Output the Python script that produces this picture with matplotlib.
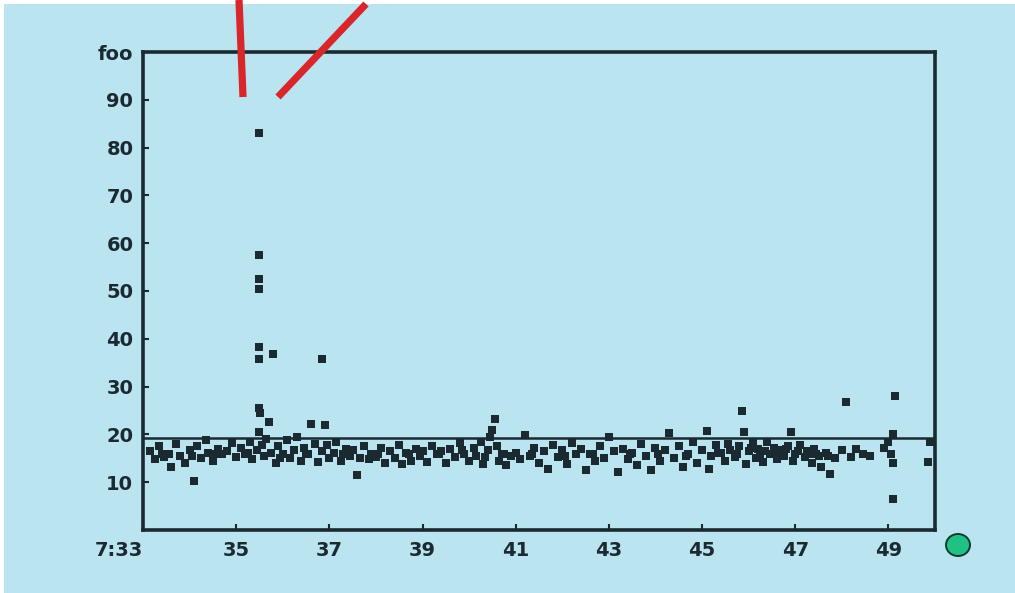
import matplotlib
matplotlib.use("Agg")
import matplotlib.pyplot as plt
from matplotlib.lines import Line2D
from matplotlib.patches import Ellipse, Rectangle

# Readings: minute of the hour and measured value
minutes = [
    33.15, 33.25, 33.35, 33.45, 33.55, 33.6, 33.7, 33.8, 33.9, 34.0, 34.1, 34.15,
    34.25, 34.35, 34.4, 34.5, 34.6, 34.7, 34.8, 34.9, 35.0,
    35.1, 35.2, 35.3, 35.35, 35.45, 35.5, 35.52, 35.5, 35.55, 35.6, 35.65, 35.7,
    35.75, 35.85, 35.9, 36.0, 36.1, 36.15, 36.25, 36.3, 36.4, 36.45, 36.55, 36.6,
    36.7, 36.75, 36.85, 36.9, 36.95, 37.0,
    37.1, 37.15, 37.25, 37.35, 37.45, 37.5, 37.6, 37.65, 37.75, 37.85, 37.9, 38.0,
    38.1, 38.2, 38.3, 38.4, 38.5, 38.55, 38.65, 38.75, 38.85, 38.95, 39.0,
    39.1, 39.2, 39.3, 39.4, 39.5, 39.6, 39.7, 39.8, 39.9, 40.0, 40.1, 40.15, 40.25,
    40.3, 40.4, 40.45, 40.5, 40.55, 40.6, 40.65, 40.75, 40.8, 40.9, 41.0,
    41.1, 41.2, 41.3, 41.4, 41.5, 41.6, 41.7, 41.8, 41.9, 42.0, 42.1, 42.2, 42.3,
    42.4, 42.5, 42.6, 42.7, 42.8, 42.9, 43.0,
    43.1, 43.2, 43.3, 43.4, 43.5, 43.6, 43.7, 43.8, 43.9, 44.0, 44.1, 44.2, 44.3,
    44.4, 44.5, 44.6, 44.7, 44.8, 44.9, 45.0,
    45.1, 45.15, 45.2, 45.3, 45.4, 45.5, 45.55, 45.6, 45.7, 45.8, 45.85, 45.9, 45.95,
    46.0, 46.1, 46.15, 46.2, 46.3, 46.35, 46.4, 46.5, 46.55, 46.6, 46.7, 46.75,
    46.85, 46.9, 46.95, 47.0,
    47.1, 47.2, 47.25, 47.35, 47.4, 47.5, 47.55, 47.65, 47.75, 47.85, 48.0, 48.1,
    48.2, 48.3, 48.45, 48.6, 48.9, 49.0, 49.05, 49.1, 49.15, 49.1, 49.1, 49.85, 49.9,
    35.5, 35.5, 35.5, 35.5, 35.5, 35.5, 35.8, 36.85,
    # second pass through the busy stretch
    33.4, 34.05, 34.55, 35.25, 35.95, 36.5, 37.3, 38.05, 38.7, 39.35, 39.85, 40.35,
    40.7, 41.35, 42.05, 42.65, 43.45, 44.05, 44.65, 45.35, 45.75, 46.05, 46.25,
    46.45, 46.65, 46.8, 47.05, 47.3, 47.45, 47.7,
]
values = [
    16.5, 14.8, 17.5, 15.2, 16.0, 13.2, 18.0, 15.5, 14.0, 16.8, 10.2, 17.6,
    15.0, 18.8, 16.2, 14.5, 17.0, 15.8, 16.5, 18.2, 15.2,
    17.2, 16.0, 18.5, 14.8, 16.8, 25.5, 24.5, 20.5, 17.8, 15.5, 19.0, 22.6,
    16.2, 14.0, 17.5, 16.0, 18.8, 15.0, 16.8, 19.5, 14.5, 17.2, 15.8, 22.2,
    18.0, 14.2, 16.5, 22.0, 17.8, 15.0,
    16.2, 18.5, 14.5, 17.0, 15.5, 16.8, 11.5, 15.0, 17.5, 14.8, 16.0, 15.2,
    17.2, 14.0, 16.5, 15.0, 17.8, 13.8, 16.2, 14.5, 17.0, 15.5, 16.5,
    14.2, 17.5, 15.8, 16.5, 14.0, 17.0, 15.2, 18.2, 16.0, 14.5, 17.2, 15.5, 18.5,
    13.8, 16.8, 19.5, 21.0, 23.2, 17.5, 14.5, 16.0, 13.5, 15.5, 16.2,
    14.8, 19.8, 15.5, 17.2, 14.0, 16.5, 12.8, 17.8, 15.2, 16.8, 13.8, 18.2, 15.8,
    17.0, 12.5, 16.0, 14.5, 17.5, 15.0, 19.5,
    16.5, 12.2, 17.0, 14.8, 16.2, 13.5, 18.0, 15.5, 12.5, 17.2, 14.5, 16.8, 20.2,
    15.0, 17.5, 13.2, 16.0, 18.5, 14.0, 16.8,
    20.8, 12.8, 15.5, 17.8, 16.2, 14.5, 18.0, 16.8, 15.2, 17.5, 24.8, 20.5, 13.8,
    16.5, 18.2, 15.0, 17.0, 14.2, 16.5, 18.5, 15.8, 17.2, 14.8, 16.8, 15.5,
    17.5, 20.5, 14.5, 16.0,
    17.8, 15.2, 16.5, 14.0, 17.0, 15.5, 13.2, 16.2, 11.8, 15.0, 16.8, 26.8,
    15.2, 17.0, 16.0, 15.5, 17.2, 18.5, 16.0, 20.0, 28.0, 14.0, 6.5, 14.2, 18.5,
    83.1, 57.5, 52.5, 50.5, 38.3, 35.8, 36.8, 35.8,
    15.8, 15.5, 16.0, 16.2, 15.0, 16.0, 15.8, 16.0, 15.8, 16.0, 16.8, 15.2,
    15.8, 16.0, 15.5, 15.8, 15.8, 15.8, 15.5, 16.2, 16.0, 17.2, 16.0,
    15.8, 16.2, 17.0, 16.5, 16.0, 15.8, 15.5,
]

reference_level = 19.3

x_ticks = [33, 35, 37, 39, 41, 43, 45, 47, 49]
x_tick_labels = ["7:33", "35", "37", "39", "41", "43", "45", "47", "49"]
y_ticks = [10, 20, 30, 40, 50, 60, 70, 80, 90, 100]
y_tick_labels = ["10", "20", "30", "40", "50", "60", "70", "80", "90", "foo"]

W, H = 1015, 593
bg = "#bbe4f1"
ink = "#1b2a31"

fig = plt.figure(figsize=(W / 100, H / 100), dpi=100, facecolor=bg)
ax = fig.add_axes([143 / W, 1 - 530 / H, (935 - 143) / W, (530 - 52) / H])
ax.set_facecolor(bg)

ax.scatter(minutes, values, s=32, marker="s", color=ink, linewidths=0, zorder=3)
ax.axhline(reference_level, color=ink, lw=1.8, zorder=2)

ax.set_xlim(33, 50)
ax.set_ylim(0, 100)
ax.set_xticks(x_ticks)
ax.set_xticklabels(x_tick_labels)
ax.set_yticks(y_ticks)
ax.set_yticklabels(y_tick_labels)

for side in ax.spines.values():
    side.set_color(ink)
    side.set_linewidth(2.6)

ax.tick_params(direction="in", length=4, width=1.5, color=ink,
               labelcolor=ink, labelsize=14)
ax.tick_params(axis="y", pad=7)
ax.tick_params(axis="x", pad=8)
for lab in ax.get_xticklabels() + ax.get_yticklabels():
    lab.set_fontweight("bold")
# the clock label sits left of the first tick
ax.get_xticklabels()[0].set_horizontalalignment("right")
ax.get_xticklabels()[0].set_x(33.1)


def px(x, y):
    return x / W, 1 - y / H


# thin white margin along the top and left edges
fig.add_artist(Rectangle((0, 1 - 4 / H), 1, 4 / H, transform=fig.transFigure,
                         facecolor="white", edgecolor="none", zorder=0))
fig.add_artist(Rectangle((0, 0), 4 / W, 1, transform=fig.transFigure,
                         facecolor="white", edgecolor="none", zorder=0))

# red pen strokes over the top of the frame
for (x0, y0), (x1, y1) in [((239, 0), (243, 97)), ((278, 97), (366, 4))]:
    a, b = px(x0, y0)
    c, d = px(x1, y1)
    fig.add_artist(Line2D([a, c], [b, d], transform=fig.transFigure,
                          color="#d8262b", lw=5.2, solid_capstyle="butt",
                          zorder=10))

# green marker dot at the lower right
cx, cy = px(958, 545)
fig.add_artist(Ellipse((cx, cy), 24 / W, 22 / H, transform=fig.transFigure,
                       facecolor="#1fc184", edgecolor="#0d3b2c", lw=1.4,
                       zorder=10))

fig.savefig("out.png", dpi=100, facecolor=bg)
